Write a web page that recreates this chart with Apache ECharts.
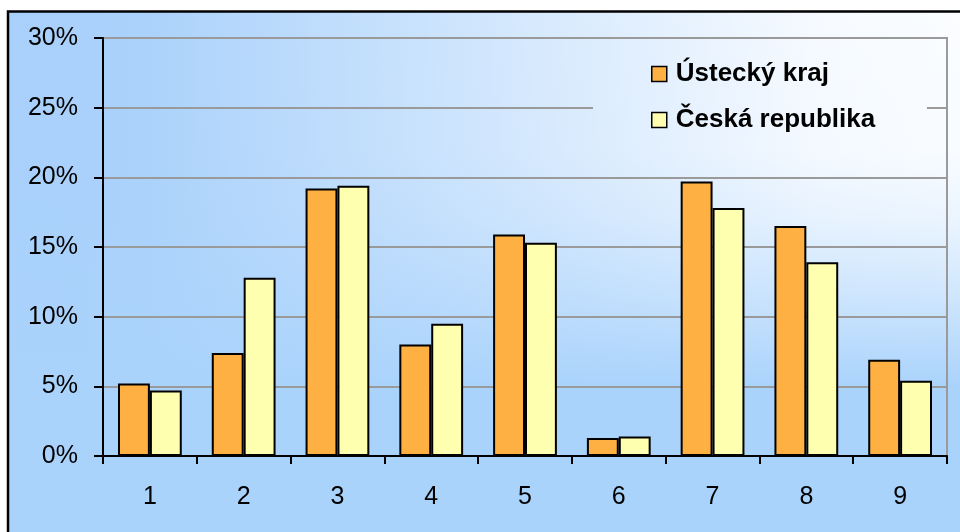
<!DOCTYPE html>
<html>
<head>
<meta charset="utf-8">
<script src="https://cdn.jsdelivr.net/npm/echarts@6/dist/echarts.min.js"></script>
<style>
html,body{margin:0;padding:0;background:#fff;}
#chart{width:960px;height:532px;}
</style>
</head>
<body>
<div id="chart"></div>
<script>
const categories = ['1','2','3','4','5','6','7','8','9'];
const usteckyKraj = [5.2, 7.4, 19.2, 8.0, 15.9, 1.3, 19.7, 16.5, 6.9];
const ceskaRepublika = [4.7, 12.8, 19.4, 9.5, 15.3, 1.4, 17.8, 13.9, 5.4];
const seriesNames = ['Ústecký kraj', 'Česká republika'];
const yTicks = { min: 0, max: 30, interval: 5 };

const hGrad = {
  type: 'linear', x: 0, y: 0, x2: 960, y2: 0, global: true,
  colorStops: [
    { offset: 0, color: '#a8d0fb' },
    { offset: 0.15, color: '#abd2fb' },
    { offset: 0.85, color: '#f6faff' },
    { offset: 1, color: '#fbfdff' }
  ]
};
const vGrad = {
  type: 'linear', x: 0, y: 11, x2: 0, y2: 532, global: true,
  colorStops: [
    { offset: 0, color: 'rgba(170,211,252,0)' },
    { offset: 0.27, color: 'rgba(170,211,252,0.03)' },
    { offset: 0.4, color: 'rgba(170,211,252,0.2)' },
    { offset: 0.55, color: 'rgba(170,211,252,0.55)' },
    { offset: 0.72, color: 'rgba(170,211,252,1)' },
    { offset: 1, color: 'rgba(170,211,252,1)' }
  ]
};

const chart = echarts.init(document.getElementById('chart'), null, { renderer: 'canvas' });
const font = '"Liberation Sans", Arial, sans-serif';
chart.setOption({
  backgroundColor: '#ffffff',
  animation: false,
  graphic: [
    { type: 'rect', z: -20, silent: true, shape: { x: 8, y: 11, width: 1000, height: 600 }, style: { fill: hGrad } },
    { type: 'rect', z: -19, silent: true, shape: { x: 8, y: 11, width: 1000, height: 600 }, style: { fill: vGrad } },
    { type: 'rect', z: 1, silent: true, shape: { x: 593, y: 48, width: 334, height: 118 }, style: { fill: hGrad } },
    { type: 'rect', z: 1, silent: true, shape: { x: 593, y: 48, width: 334, height: 118 }, style: { fill: vGrad } },
    { type: 'rect', z: 10, silent: true, shape: { x: 8, y: 11.5, width: 1000, height: 600 }, style: { fill: 'none', stroke: '#000', lineWidth: 2.5 } }
  ],
  grid: {
    left: 103, right: 13, top: 38, bottom: 76,
    show: true, borderColor: '#9a9a9a', borderWidth: 2, backgroundColor: 'transparent'
  },
  legend: {
    orient: 'vertical',
    left: 593, top: 50,
    padding: [10, 30, 20, 58],
    itemWidth: 15, itemHeight: 15, itemGap: 18,
    icon: 'rect',
    data: seriesNames,
    itemStyle: { borderColor: '#000', borderWidth: 1.5 },
    textStyle: { fontFamily: font, fontSize: 26, fontWeight: 'bold', color: '#000', lineHeight: 28, padding: [0, 0, 0, 4] }
  },
  xAxis: {
    type: 'category',
    data: categories,
    boundaryGap: true,
    axisLine: { lineStyle: { color: '#000', width: 2 } },
    axisTick: { show: true, length: 8, inside: false, lineStyle: { color: '#000', width: 2 } },
    axisLabel: { fontFamily: font, fontSize: 25, color: '#000', margin: 29 },
    splitLine: { show: false }
  },
  yAxis: {
    type: 'value',
    min: yTicks.min, max: yTicks.max, interval: yTicks.interval,
    axisLine: { show: true, lineStyle: { color: '#000', width: 2 } },
    axisTick: { show: true, length: 9, lineStyle: { color: '#000', width: 2 } },
    axisLabel: { fontFamily: font, fontSize: 25, color: '#000', margin: 25, formatter: '{value}%' },
    splitLine: { show: true, lineStyle: { color: '#9a9a9a', width: 2 } }
  },
  series: [
    {
      name: seriesNames[0], type: 'bar', data: usteckyKraj,
      barGap: '0%', barCategoryGap: '32%',
      itemStyle: { color: '#ffb042', borderColor: '#000', borderWidth: 2 }
    },
    {
      name: seriesNames[1], type: 'bar', data: ceskaRepublika,
      barGap: '0%', barCategoryGap: '32%',
      itemStyle: { color: '#ffffb0', borderColor: '#000', borderWidth: 2 }
    }
  ]
});
</script>
</body>
</html>
